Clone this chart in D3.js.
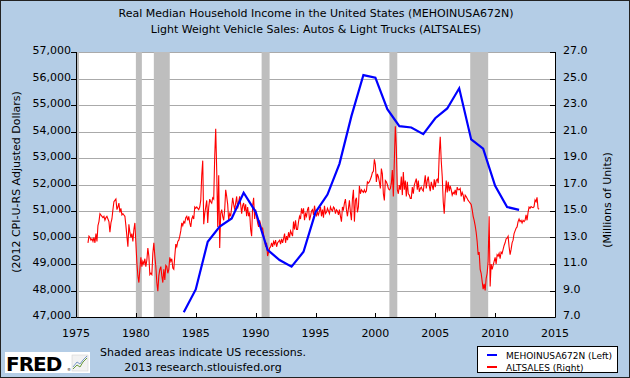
<!DOCTYPE html>
<html>
<head>
<meta charset="utf-8">
<script src="https://cdn.jsdelivr.net/npm/d3@7"></script>
<style>
  body { margin: 0; background: #fff; }
  svg text { font-family: "DejaVu Sans", Verdana, sans-serif; fill: #000; }
</style>
</head>
<body>
<div id="main"></div>
<script>
const ctx = {
  SVG_W: 630,
  SVG_H: 378,
  left: 76,
  right: 555,
  top: 52,
  bottom: 317,
};

const titleLines = [
  "Real Median Household Income in the United States (MEHOINUSA672N)",
  "Light Weight Vehicle Sales: Autos & Light Trucks (ALTSALES)"
];
const xTicks = [1975, 1980, 1985, 1990, 1995, 2000, 2005, 2010, 2015];
const leftTicks = [47000, 48000, 49000, 50000, 51000, 52000, 53000, 54000, 55000, 56000, 57000];
const rightTicks = [7, 9, 11, 13, 15, 17, 19, 21, 23, 25, 27];

// recession start / end as decimal years
const recessions = [
  [1975.0, 1975.25],
  [1980.0, 1980.5],
  [1981.5, 1982.83],
  [1990.5, 1991.17],
  [2001.17, 2001.83],
  [2007.92, 2009.42]
];

// MEHOINUSA672N, annual, 2012 dollars
const incomeYears = [1984, 1985, 1986, 1987, 1988, 1989, 1990, 1991, 1992, 1993,
  1994, 1995, 1996, 1997, 1998, 1999, 2000, 2001, 2002, 2003,
  2004, 2005, 2006, 2007, 2008, 2009, 2010, 2011, 2012];
const incomeValues = [47180, 48040, 49840, 50410, 50720, 51690, 50970, 49530, 49150, 48900,
  49460, 50950, 51620, 52780, 54580, 56130, 56030, 54840, 54200, 54150,
  53900, 54500, 54870, 55630, 53700, 53350, 51950, 51150, 51040];

// ALTSALES, monthly, millions of units (one row per year from 1976)
const salesStartYear = 1976;
const salesMonthly = [
  [12.6, 13.1, 13.0, 12.8, 12.9, 12.7, 13.0, 12.6, 13.3, 12.7, 13.9, 14.2],
  [14.8, 14.7, 14.6, 14.5, 14.6, 14.3, 14.5, 14.6, 14.4, 14.2, 13.4, 14.1],
  [14.4, 15.1, 15.7, 15.8, 15.9, 15.1, 15.3, 15.6, 14.9, 15.2, 14.7, 14.8],
  [14.7, 14.6, 13.9, 13.1, 12.3, 14.0, 13.4, 13.0, 13.3, 12.7, 13.6, 14.1],
  [12.6, 11.1, 10.1, 9.6, 10.6, 11.5, 10.8, 11.2, 11.0, 11.4, 10.8, 11.3],
  [12.2, 11.6, 10.2, 10.3, 10.2, 11.8, 12.6, 11.6, 10.8, 9.6, 8.95, 10.1],
  [10.6, 10.8, 10.1, 9.6, 10.6, 9.8, 10.9, 10.8, 10.3, 10.6, 11.5, 11.2],
  [11.4, 10.7, 10.6, 11.6, 12.5, 12.3, 12.7, 12.8, 13.1, 13.5, 14.1, 13.9],
  [14.2, 14.1, 14.5, 14.6, 14.3, 14.6, 14.1, 13.8, 14.4, 14.6, 14.4, 15.3],
  [15.2, 15.3, 15.2, 15.1, 15.3, 15.8, 17.7, 18.8, 14.0, 14.8, 15.3, 15.8],
  [14.1, 15.3, 15.9, 15.7, 15.6, 16.0, 15.9, 19.1, 21.2, 18.1, 13.8, 17.7],
  [12.2, 14.8, 15.1, 14.6, 14.3, 15.1, 16.6, 16.1, 15.5, 14.3, 14.8, 14.6],
  [15.3, 16.0, 15.5, 15.1, 15.6, 16.1, 15.2, 15.7, 16.1, 15.5, 14.8, 15.4],
  [15.6, 15.0, 15.5, 14.6, 15.3, 14.6, 14.9, 13.6, 13.1, 15.4, 16.0, 14.4],
  [15.1, 14.6, 14.1, 13.8, 14.3, 14.0, 13.6, 13.7, 13.2, 12.8, 12.3, 12.6],
  [11.6, 11.9, 12.2, 12.3, 12.6, 12.3, 12.7, 12.5, 12.8, 12.3, 12.6, 12.7],
  [12.8, 12.5, 12.9, 12.6, 12.9, 13.3, 12.6, 13.1, 12.8, 13.4, 13.0, 13.5],
  [13.3, 13.1, 14.2, 13.6, 14.3, 13.6, 13.6, 14.2, 14.6, 14.4, 15.2, 14.8],
  [15.2, 14.3, 14.8, 14.6, 15.1, 15.3, 14.3, 14.6, 15.0, 15.1, 14.7, 15.4],
  [14.9, 14.6, 14.9, 14.7, 15.0, 15.3, 14.6, 15.1, 14.5, 15.4, 14.8, 14.9],
  [15.2, 15.0, 14.8, 15.3, 15.1, 15.0, 15.3, 15.2, 14.8, 15.1, 15.0, 14.7],
  [15.1, 14.6, 14.2, 15.3, 15.1, 15.6, 15.9, 15.1, 14.6, 15.2, 15.8, 14.9],
  [14.3, 15.9, 16.6, 14.2, 15.8, 16.0, 14.9, 15.3, 16.9, 16.3, 16.6, 16.5],
  [16.4, 16.6, 16.4, 16.5, 17.2, 17.1, 17.2, 17.4, 17.6, 17.9, 18.0, 18.9],
  [18.5, 17.2, 17.8, 17.6, 17.2, 16.7, 18.2, 17.8, 16.3, 15.8, 17.3, 17.2],
  [17.0, 16.7, 16.6, 16.7, 17.1, 18.1, 16.1, 18.8, 21.4, 19.8, 16.6, 16.3],
  [16.95, 16.6, 17.6, 16.2, 17.95, 16.6, 17.3, 16.1, 17.2, 16.3, 16.2, 15.95],
  [15.95, 16.8, 16.3, 16.95, 17.2, 17.45, 16.6, 17.3, 16.45, 16.7, 16.8, 16.6],
  [16.5, 17.1, 17.7, 16.7, 17.3, 17.6, 16.9, 16.5, 17.2, 16.9, 16.6, 17.4],
  [16.8, 17.3, 17.4, 17.1, 19.3, 20.6, 18.8, 17.6, 15.7, 14.8, 16.3, 17.3],
  [16.4, 17.2, 16.5, 16.9, 16.6, 16.2, 16.4, 16.3, 16.6, 16.2, 16.8, 16.6],
  [16.6, 16.7, 16.1, 16.4, 16.2, 15.7, 16.2, 16.1, 15.95, 15.8, 15.7, 15.6],
  [15.5, 15.1, 14.6, 14.3, 13.9, 13.4, 12.7, 11.7, 11.9, 10.6, 10.3, 9.7],
  [9.1, 9.5, 9.0, 9.9, 10.3, 11.2, 14.6, 9.3, 11.0, 10.6, 10.9, 11.2],
  [11.5, 11.0, 11.7, 11.6, 11.8, 11.4, 11.9, 11.8, 12.1, 12.4, 12.6, 12.9],
  [12.95, 13.1, 12.3, 11.7, 12.1, 12.6, 12.8, 13.3, 13.5, 13.7, 13.8, 14.2],
  [14.4, 14.2, 14.3, 14.1, 14.3, 14.2, 14.3, 14.7, 14.3, 14.9, 15.3, 15.2],
  [15.33, 15.28, 15.25, 15.33, 15.83, 15.7, 16.03, 15.2, 15.13]
];

const legendItems = [
  { label: "MEHOINUSA672N (Left)", color: "#0000ff" },
  { label: "ALTSALES (Right)", color: "#ff0000" }
];

function drawChart(svgEl) {
  const x = d3.scaleLinear().domain([1975, 2015]).range([ctx.left, ctx.right]);
  const yL = d3.scaleLinear().domain([47000, 57000]).range([ctx.bottom, ctx.top]);
  const yR = d3.scaleLinear().domain([7, 27]).range([ctx.bottom, ctx.top]);

  // page background + frame
  svgEl.append("rect")
    .attr("x", 0.5).attr("y", 0.5)
    .attr("width", ctx.SVG_W - 1).attr("height", ctx.SVG_H - 1)
    .attr("fill", "#b4cde6").attr("stroke", "#222");

  // titles
  svgEl.selectAll(".title")
    .data(titleLines)
    .enter().append("text")
    .attr("class", "title")
    .attr("x", 316)
    .attr("y", (d, i) => 17 + i * 16)
    .attr("text-anchor", "middle")
    .style("font-size", "11px")
    .text(d => d);

  // plot area
  svgEl.append("rect")
    .attr("x", ctx.left).attr("y", ctx.top)
    .attr("width", ctx.right - ctx.left).attr("height", ctx.bottom - ctx.top)
    .attr("fill", "#fff");

  svgEl.append("clipPath").attr("id", "plotClip")
    .append("rect")
    .attr("x", ctx.left).attr("y", ctx.top)
    .attr("width", ctx.right - ctx.left).attr("height", ctx.bottom - ctx.top);

  // grid
  svgEl.selectAll(".grid")
    .data(leftTicks)
    .enter().append("line")
    .attr("class", "grid")
    .attr("x1", ctx.left).attr("x2", ctx.right)
    .attr("y1", d => Math.round(yL(d)) + 0.5)
    .attr("y2", d => Math.round(yL(d)) + 0.5)
    .attr("stroke", "#aaaaaa");

  // recession bars
  svgEl.selectAll(".recession")
    .data(recessions)
    .enter().append("rect")
    .attr("class", "recession")
    .attr("x", d => x(d[0]))
    .attr("width", d => x(d[1]) - x(d[0]))
    .attr("y", ctx.top)
    .attr("height", ctx.bottom - ctx.top)
    .attr("fill", "#bebebe");

  const plot = svgEl.append("g").attr("clip-path", "url(#plotClip)");

  // red series
  let sales = [];
  salesMonthly.forEach((row, i) => {
    row.forEach((v, m) => sales.push({ t: salesStartYear + i + m / 12, v: v }));
  });
  plot.append("path")
    .datum(sales)
    .attr("d", d3.line().x(d => x(d.t)).y(d => yR(d.v)))
    .attr("fill", "none")
    .attr("stroke", "#ff0000")
    .attr("stroke-width", 1.1);

  // blue series
  const income = incomeYears.map((yr, i) => ({ t: yr, v: incomeValues[i] }));
  plot.append("path")
    .datum(income)
    .attr("d", d3.line().x(d => x(d.t)).y(d => yL(d.v)))
    .attr("fill", "none")
    .attr("stroke", "#0000ff")
    .attr("stroke-width", 2.2);

  // axes frame
  svgEl.append("path")
    .attr("d", `M${ctx.left + 0.5},${ctx.top}V${ctx.bottom + 0.5}H${ctx.right + 0.5}V${ctx.top}`)
    .attr("fill", "none").attr("stroke", "#000");

  // left ticks (outside)
  svgEl.selectAll(".ltick")
    .data(leftTicks)
    .enter().append("line")
    .attr("x1", ctx.left - 5).attr("x2", ctx.left)
    .attr("y1", d => Math.round(yL(d)) + 0.5)
    .attr("y2", d => Math.round(yL(d)) + 0.5)
    .attr("stroke", "#000");
  svgEl.selectAll(".llabel")
    .data(leftTicks)
    .enter().append("text")
    .attr("x", 71).attr("y", d => yL(d) + 2)
    .attr("text-anchor", "end")
    .style("font-size", "11px")
    .text(d => d3.format(",")(d));

  // right ticks (inside)
  svgEl.selectAll(".rtick")
    .data(rightTicks)
    .enter().append("line")
    .attr("x1", ctx.right - 5).attr("x2", ctx.right)
    .attr("y1", d => Math.round(yR(d)) + 0.5)
    .attr("y2", d => Math.round(yR(d)) + 0.5)
    .attr("stroke", "#000");
  svgEl.selectAll(".rlabel")
    .data(rightTicks)
    .enter().append("text")
    .attr("x", 563).attr("y", d => yR(d) + 2)
    .style("font-size", "11px")
    .text(d => d3.format(".1f")(d));

  // x ticks (inside)
  svgEl.selectAll(".xtick")
    .data(xTicks)
    .enter().append("line")
    .attr("x1", d => Math.round(x(d)) + 0.5).attr("x2", d => Math.round(x(d)) + 0.5)
    .attr("y1", ctx.bottom - 4).attr("y2", ctx.bottom)
    .attr("stroke", "#000");
  svgEl.selectAll(".xlabel")
    .data(xTicks)
    .enter().append("text")
    .attr("x", d => x(d)).attr("y", 337)
    .attr("text-anchor", "middle")
    .style("font-size", "11px")
    .text(d => d);

  // axis titles
  svgEl.append("text")
    .attr("transform", "translate(20,182) rotate(-90)")
    .attr("text-anchor", "middle")
    .style("font-size", "11px")
    .text("(2012 CPI-U-RS Adjusted Dollars)");
  svgEl.append("text")
    .attr("transform", "translate(611,200) rotate(-90)")
    .attr("text-anchor", "middle")
    .style("font-size", "11px")
    .text("(Millions of Units)");

  // notes
  svgEl.append("text")
    .attr("x", 203).attr("y", 356)
    .attr("text-anchor", "middle")
    .style("font-size", "11px")
    .text("Shaded areas indicate US recessions.");
  svgEl.append("text")
    .attr("x", 203).attr("y", 371)
    .attr("text-anchor", "middle")
    .style("font-size", "11px")
    .text("2013 research.stlouisfed.org");

  // FRED logo
  const logo = svgEl.append("g");
  logo.append("rect").attr("x", 5).attr("y", 352).attr("width", 85).attr("height", 21).attr("fill", "#fff");
  logo.append("text")
    .attr("x", 6).attr("y", 371)
    .style("font-size", "20px").style("font-weight", "bold")
    .style("letter-spacing", "-1px")
    .text("FRED");
  logo.append("text")
    .attr("x", 67).attr("y", 371)
    .style("font-size", "4px")
    .text("\u00ae");
  logo.append("rect").attr("x", 72).attr("y", 355).attr("width", 16).attr("height", 16)
    .attr("fill", "#f2f2f2").attr("stroke", "#ccc").attr("stroke-width", 0.5);
  logo.append("path")
    .attr("d", "M73,369L77,365L80,367L83,362L87,358")
    .attr("fill", "none").attr("stroke", "#6a9a3a").attr("stroke-width", 1);
  logo.append("path")
    .attr("d", "M73,367L77,362L80,364L83,360L87,356")
    .attr("fill", "none").attr("stroke", "#7a9ac8").attr("stroke-width", 1);

  // legend
  const lg = svgEl.append("g");
  lg.append("rect")
    .attr("x", 477.5).attr("y", 346.5).attr("width", 140).attr("height", 26)
    .attr("fill", "#fff").attr("stroke", "#000");
  legendItems.forEach((d, i) => {
    lg.append("line")
      .attr("x1", 487).attr("x2", 497)
      .attr("y1", 355 + i * 12).attr("y2", 355 + i * 12)
      .attr("stroke", d.color).attr("stroke-width", 2);
    lg.append("text")
      .attr("x", 506).attr("y", 358.5 + i * 12)
      .style("font-size", "9px")
      .text(d.label);
  });
}

function createViz() {
  let svgEl = d3.select("#main").append("svg");
  svgEl.attr("width", ctx.SVG_W);
  svgEl.attr("height", ctx.SVG_H);
  drawChart(svgEl);
}

createViz();
</script>
</body>
</html>
